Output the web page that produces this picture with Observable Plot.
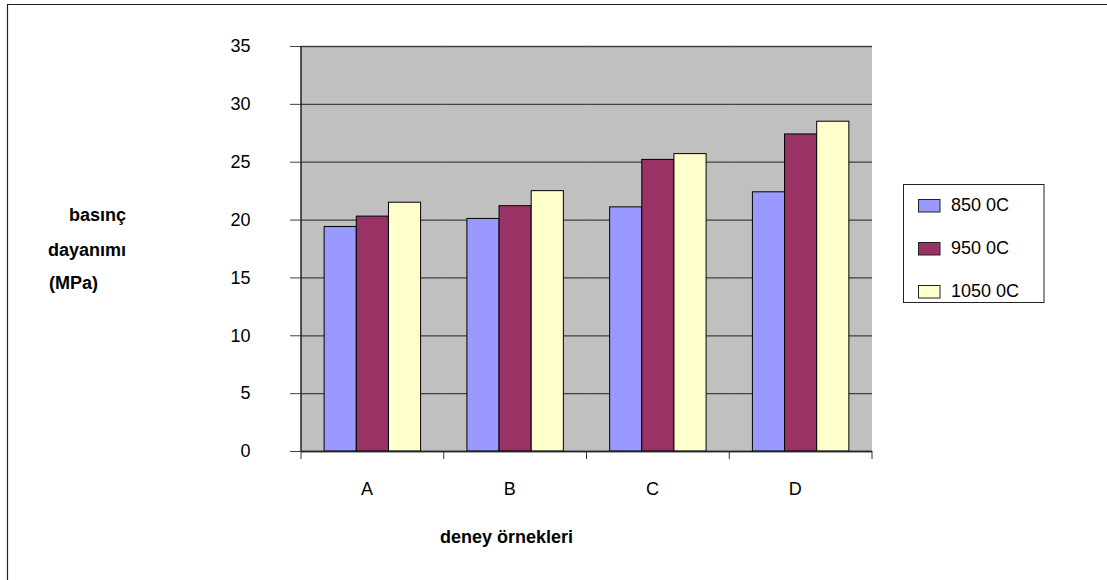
<!DOCTYPE html>
<html>
<head>
<meta charset="utf-8">
<script src="https://cdn.jsdelivr.net/npm/d3@7"></script>
<script src="https://cdn.jsdelivr.net/npm/@observablehq/plot@0.6"></script>
<style>
  html, body { margin: 0; padding: 0; background: #ffffff; }
  #chart svg { display: block; }
</style>
</head>
<body>
<div id="chart"></div>
<script>
// Compressive strength (MPa) of test samples A–D fired at three temperatures
const categories = ["A", "B", "C", "D"];
const series = ["850 0C", "950 0C", "1050 0C"];
const values850 = [19.4, 20.1, 21.1, 22.4];
const values950 = [20.3, 21.2, 25.2, 27.4];
const values1050 = [21.5, 22.5, 25.7, 28.5];
const seriesColors = ["#9999ff", "#993366", "#ffffcc"];
const yTicks = [0, 5, 10, 15, 20, 25, 30, 35];
const yTitleLines = ["basınç", "dayanımı", "(MPa)"];
const xTitle = "deney örnekleri";

const seriesValues = [values850, values950, values1050];
const data = [];
categories.forEach((cat, i) => {
  series.forEach((s, j) => data.push({cat, series: s, value: seriesValues[j][i]}));
});

const font = "'Liberation Sans', Arial, sans-serif";

const plot = Plot.plot({
  width: 1107,
  height: 580,
  marginLeft: 301,
  marginRight: 235,
  marginTop: 46,
  marginBottom: 129,
  style: {fontFamily: font, fontSize: "18px", color: "#000", background: "transparent", overflow: "visible"},
  fx: {domain: categories, padding: 0, round: false, label: null},
  x: {domain: series, paddingInner: 0, paddingOuter: 0.72, round: false, axis: null},
  y: {domain: [0, 35], label: null},
  color: {domain: series, range: seriesColors},
  marks: [
    Plot.gridY(yTicks, {stroke: "#404040", strokeOpacity: 1, strokeWidth: 1.3}),
    Plot.barY(data, {fx: "cat", x: "series", y: "value", fill: "series", stroke: "#000", strokeWidth: 1}),
    Plot.ruleY([0], {stroke: "#222", strokeWidth: 1.5}),
    Plot.axisY(yTicks, {tickSize: 11, tickPadding: 40, tickFormat: d => String(d), label: null, stroke: "#404040"}),
    Plot.axisFx({anchor: "bottom", tickSize: 0, tickPadding: 31, dx: -6, label: null})
  ]
});

document.getElementById("chart").appendChild(plot);

const svg = d3.select(plot);
const fx = plot.scale("fx");
const y = plot.scale("y");
const bw = fx.bandwidth;
const y0 = y.apply(0);
const yTop = y.apply(35);
const xLeft = fx.apply(categories[0]);
const xRight = fx.apply(categories[categories.length - 1]) + bw;

// gray plot-area background, placed beneath every mark
svg.insert("rect", ":first-child")
  .attr("x", xLeft).attr("y", yTop)
  .attr("width", xRight - xLeft).attr("height", y0 - yTop)
  .attr("fill", "#c0c0c0");

// left axis line of the plot area
svg.append("line")
  .attr("x1", xLeft).attr("x2", xLeft)
  .attr("y1", yTop).attr("y2", y0)
  .attr("stroke", "#222").attr("stroke-width", 1.5);

// category boundary ticks below the baseline
const bounds = categories.map(c => fx.apply(c)).concat([xRight]);
svg.append("g").selectAll("line").data(bounds).join("line")
  .attr("x1", d => d).attr("x2", d => d)
  .attr("y1", y0).attr("y2", y0 + 8)
  .attr("stroke", "#333").attr("stroke-width", 1);

// outer chart border (top and left edges)
svg.append("path")
  .attr("d", "M7.5,580V4.5H1107")
  .attr("fill", "none").attr("stroke", "#222").attr("stroke-width", 1.2);

// axis titles
const yTitle = svg.append("g")
  .attr("font-family", font).attr("font-size", 18).attr("font-weight", "bold")
  .attr("fill", "#000").attr("text-anchor", "start");
const yTitlePos = [[69, 220.5], [48, 255.5], [49, 288.5]];
yTitleLines.forEach((t, i) => {
  yTitle.append("text").attr("x", yTitlePos[i][0]).attr("y", yTitlePos[i][1]).text(t);
});
svg.append("text")
  .attr("x", 506.5)
  .attr("y", 542.5)
  .attr("text-anchor", "middle")
  .attr("font-family", font).attr("font-size", 18).attr("font-weight", "bold")
  .text(xTitle);

// legend
const color = plot.scale("color");
const legend = svg.append("g")
  .attr("font-family", font).attr("font-size", 18).attr("text-anchor", "start");
legend.append("rect")
  .attr("x", 903.5).attr("y", 184.5).attr("width", 140.5).attr("height", 118)
  .attr("fill", "#fff").attr("stroke", "#222").attr("stroke-width", 1);
series.forEach((s, i) => {
  const base = 211 + i * 43;
  legend.append("rect")
    .attr("x", 918.5).attr("y", base - 11.5).attr("width", 21.5).attr("height", 12.5)
    .attr("fill", color.apply(s)).attr("stroke", "#222").attr("stroke-width", 1);
  legend.append("text").attr("x", 951).attr("y", base).text(s);
});
</script>
</body>
</html>
